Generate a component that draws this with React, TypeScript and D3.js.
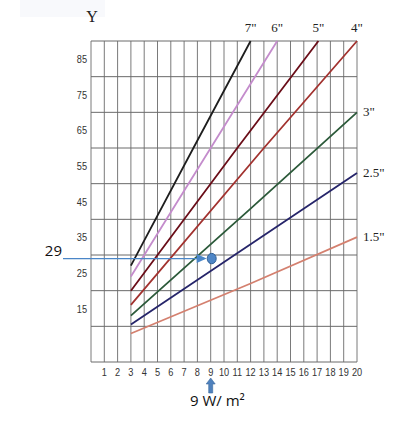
import { useEffect, useRef } from 'react';
import * as d3 from 'd3';

// thickness labels (inch) and their lines as [x, y]
const seriesNames = ['7"', '6"', '5"', '4"', '3"', '2.5"', '1.5"'];
const seriesColors = ['#1e1e1e', '#c48ccc', '#6a0d18', '#a2322f', '#2c5a3a', '#26256a', '#d4806f'];
const seriesPoints: [number, number][][] = [
  [[3, 27], [7.7, 60], [12, 90]],
  [[3, 24], [9, 60], [14, 90]],
  [[3, 20], [11, 60], [17.1, 90]],
  [[3, 16], [13, 60], [20, 90]],
  [[3, 13], [12, 43], [20, 70]],
  [[3, 10.5], [12, 33], [20, 53]],
  [[3, 8], [12, 22], [20, 35]]
];

const xTicks = d3.range(1, 21);
const yGrid = d3.range(0, 100, 10);
const yLabels = [15, 25, 35, 45, 55, 65, 75, 85];

const markerValue = 29;
const markerX = 9;

export default function App() {
  const svgRef = useRef<SVGSVGElement>(null);

  useEffect(() => {
    const svg = d3.select(svgRef.current);
    svg.selectAll('*').remove();

    const x = d3.scaleLinear().domain([0, 20]).range([91, 357]);
    const y = d3.scaleLinear().domain([0, 90]).range([362, 41]);

    // faint patch at top left
    svg.append('rect').attr('x', 20).attr('y', 0).attr('width', 85).attr('height', 17).attr('fill', '#f8f9fc');

    // grid
    svg.append('g').selectAll('line').data(d3.range(0, 21)).enter().append('line')
      .attr('x1', d => x(d)).attr('x2', d => x(d))
      .attr('y1', y(90)).attr('y2', y(0))
      .attr('stroke', '#7a7a7a').attr('stroke-width', 1);
    svg.append('g').selectAll('line').data(yGrid).enter().append('line')
      .attr('x1', x(0)).attr('x2', x(20))
      .attr('y1', d => y(d)).attr('y2', d => y(d))
      .attr('stroke', '#6a6a6a').attr('stroke-width', 1);

    // axis labels (squeezed to look like a narrow font)
    const narrow = '"Liberation Sans", Arial, sans-serif';
    svg.append('g').selectAll('text').data(xTicks).enter().append('text')
      .attr('transform', d => `translate(${x(d)},376) scale(0.8,1)`)
      .attr('text-anchor', 'middle')
      .attr('font-family', narrow)
      .attr('font-size', 11.5).attr('fill', '#333')
      .text(d => d);
    svg.append('g').selectAll('text').data(yLabels).enter().append('text')
      .attr('transform', d => `translate(87,${y(d) + 4}) scale(0.8,1)`)
      .attr('text-anchor', 'end')
      .attr('font-family', narrow)
      .attr('font-size', 11.5).attr('fill', '#333')
      .text(d => d);
    svg.append('text').attr('x', 92).attr('y', 22).attr('text-anchor', 'middle')
      .attr('font-family', '"Liberation Serif", serif').attr('font-size', 16).attr('fill', '#222')
      .text('Y');

    // series lines
    const line = d3.line<[number, number]>().x(d => x(d[0])).y(d => y(d[1]));
    seriesPoints.forEach((pts, i) => {
      svg.append('path').attr('d', line(pts)).attr('fill', 'none')
        .attr('stroke', seriesColors[i]).attr('stroke-width', 1.8);
      const last = pts[pts.length - 1];
      const atTop = last[1] >= 90;
      svg.append('text')
        .attr('x', atTop ? x(last[0]) : x(last[0]) + 6)
        .attr('y', atTop ? 32 : y(last[1]) + 4)
        .attr('text-anchor', atTop ? 'middle' : 'start')
        .attr('font-family', '"Liberation Serif", serif').attr('font-size', 13).attr('fill', '#222')
        .text(seriesNames[i]);
    });

    // 29 marker
    const blue = '#4a86c8';
    svg.append('text').attr('x', 62).attr('y', 256).attr('text-anchor', 'end')
      .attr('font-family', '"Open Sans", sans-serif').attr('font-size', 15).attr('fill', '#111')
      .text(markerValue);
    svg.append('line').attr('x1', 63).attr('x2', x(markerX) - 12)
      .attr('y1', y(markerValue)).attr('y2', y(markerValue))
      .attr('stroke', blue).attr('stroke-width', 1.2);
    const ay = y(markerValue);
    svg.append('path')
      .attr('d', `M${x(markerX) - 14},${ay - 4.5}L${x(markerX) - 4},${ay}L${x(markerX) - 14},${ay + 4.5}Z`)
      .attr('fill', blue);
    svg.append('ellipse').attr('cx', x(markerX) + 1).attr('cy', ay).attr('rx', 4.5).attr('ry', 5.2)
      .attr('fill', '#4f86c6').attr('stroke', '#2f5f95').attr('stroke-width', 1);

    // up arrow below axis
    const ax = x(markerX);
    svg.append('path')
      .attr('d', `M${ax - 2},393L${ax - 2},384L${ax - 4.5},384L${ax},378L${ax + 4.5},384L${ax + 2},384L${ax + 2},393Z`)
      .attr('fill', '#4f81bd').attr('stroke', '#3a6a9e').attr('stroke-width', 0.6);
    svg.append('text').attr('x', 190).attr('y', 406)
      .attr('font-family', '"Open Sans", sans-serif').attr('font-size', 15).attr('fill', '#111')
      .text('9 W/ m²');
  }, []);

  return (
    <svg ref={svgRef} width={396} height={437}
      style={{ position: 'absolute', left: 0, top: 0, background: '#fff' }} />
  );
}
